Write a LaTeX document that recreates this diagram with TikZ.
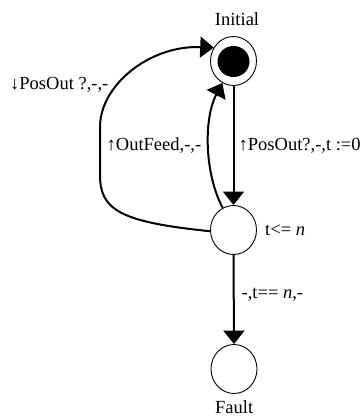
\documentclass[tikz,border=0pt]{standalone}
\usepackage{fontspec}
\setmainfont{Liberation Serif}
\usetikzlibrary{arrows.meta,shapes.geometric}
\begin{document}
\begin{tikzpicture}[x=1pt,y=-1pt,
  state/.style={draw,ellipse,line width=0.9pt,minimum width=46pt,minimum height=49pt,inner sep=0pt},
  core/.style={fill,ellipse,minimum width=32pt,minimum height=31pt,inner sep=0pt},
  trans/.style={line width=2pt,-{Triangle[length=13.5pt,width=21pt]}},
  lbl/.style={font=\fontsize{18.5}{20}\selectfont,inner sep=0pt}]
\useasboundingbox[fill=white] (0,0) rectangle (363,417);
\node[state] (init) at (233.5,61) {};
\node[core] (dot) at (233.5,61.5) {};
\node[state] (mid) at (233.5,230) {};
\node[state] (fault) at (234,369) {};
\node[lbl,anchor=base] (tinit) at (237,25.7) {Initial};
\node[lbl,anchor=base] (tfault) at (234.2,413) {Fault};
\node[lbl,anchor=base west] (tinv) at (265,235) {t<= \textit{n}};
\node[lbl,anchor=base west] (t1) at (238.5,150.7) {↑PosOut?,-,t :=0};
\node[lbl,anchor=base west] (t2) at (106.5,150.7) {↑OutFeed,-,-};
\node[lbl,anchor=base west] (t3) at (10,90) {↓PosOut ?,-,-};
\node[lbl,anchor=base west] (t4) at (241.5,298.3) {-,t== \textit{n},-};
\draw[trans] (init.south) -- (mid.north);
\draw[trans] (mid.south) -- (fault.north);
\draw[trans] (mid.183) .. controls (120,222) and (100,210) .. (100,175) -- (100,127)
  .. controls (100,85) and (150,45) .. (init.146);
\draw[trans] (mid.116) .. controls (205,175) and (203,120) .. (init.243);
\end{tikzpicture}
\end{document}
